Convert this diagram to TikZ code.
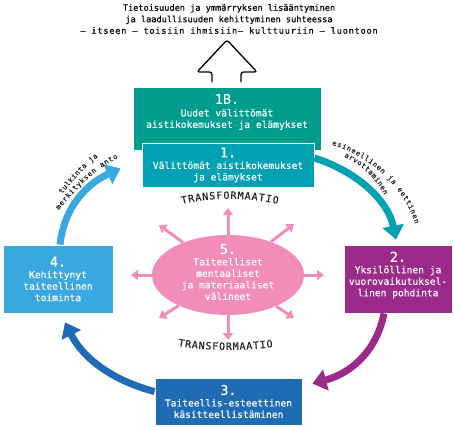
\documentclass[tikz,border=0pt]{standalone}
\usepackage{fontspec}
\setmonofont{DejaVu Sans Mono}[FakeBold=0.35]
\usepackage{xcolor}
\usetikzlibrary{arrows.meta,shapes.geometric,decorations.text}
\definecolor{tealdark}{HTML}{009C8E}
\definecolor{tealmid}{HTML}{00A1B2}
\definecolor{purplebox}{HTML}{9B2A8A}
\definecolor{bluedark}{HTML}{1F6CB5}
\definecolor{bluelight}{HTML}{3AA8E0}
\definecolor{pinkell}{HTML}{F28DB9}
\definecolor{inkgrey}{HTML}{222222}
\tikzset{every picture/.style={line width=0.75pt}}
\tikzset{
  box/.style={draw=white, line width=0.8pt, text=white, align=center, inner sep=0pt,
    font=\ttfamily\fontsize{9.6}{11.5}\selectfont},
  bigarrow/.style={line width=7pt, -{Triangle[width=21pt,length=14pt]}},
  ray/.style={pinkell, line width=3pt, -{Triangle[width=10pt,length=7pt]}},
  curvetext/.style={decorate, decoration={text along path, text align=fit to path,
    text color=inkgrey, text={#1}}}
}
\newcommand{\numfont}{\fontsize{13.5}{14}\selectfont}
\newcommand{\smallmono}{\ttfamily\fontsize{7}{7}\selectfont}
\newcommand{\capmono}{\ttfamily\fontsize{10}{10}\selectfont}

\begin{document}
\begin{tikzpicture}[x=1pt,y=-1pt]
\useasboundingbox (0,0) rectangle (454,426);
\node[font=\ttfamily\fontsize{8.6}{11.5}\selectfont, align=center, inner sep=0pt] (title) at (229,19)
  {Tietoisuuden ja ymmärryksen lisääntyminen\\
   ja laadullisuuden kehittyminen suhteessa\\
   {\addfontfeature{LetterSpace=9}– itseen – toisiin ihmisiin– kulttuuriin – luontoon}};
\draw[line width=1.3pt, rounded corners=2.5pt] (212,82) -- (212,72) -- (197,72) -- (227,40)
  -- (257,72) -- (241,72) -- (241,82);
%
\node[box, fill=tealdark, minimum width=188pt, minimum height=63pt] (box1B) at (227,118.5) {};
\node[box, draw=none] (txt1B) at (227,112) {{\numfont 1B.}\\[1pt]Uudet välittömät\\aistikokemukset ja elämykset};
\node[box, fill=tealmid, minimum width=172pt, minimum height=44pt] (box1) at (228,165)
  {{\numfont 1.}\\Välittömät aistikokemukset\\ja elämykset};
\node[box, fill=purplebox, minimum width=108pt, minimum height=68pt] (box2) at (398,279) {};
\node[box, draw=none] (txt2) at (398,275) {{\numfont 2.}\\Yksilöllinen ja\\vuorovaikutuksel-\\linen pohdinta};
\node[box, fill=bluedark, minimum width=147pt, minimum height=47pt] (box3) at (228.5,401.5)
  {{\numfont 3.}\\Taiteellis-esteettinen\\käsitteellistäminen};
\node[box, fill=bluelight, minimum width=110pt, minimum height=68pt] (box4) at (58,279)
  {{\numfont 4.}\\Kehittynyt\\taiteellinen\\toiminta};
%
\node[ellipse, fill=pinkell, minimum width=152pt, minimum height=80pt, inner sep=0pt] (ell) at (228,275) {};
\node[box, draw=none] (txt5) at (228,272) {{\numfont 5.}\\Taiteelliset\\mentaaliset\\ja materiaaliset\\välineet};
\foreach \Name/\Tip in {up/{228,208}, ur/{294,224}, rt/{324,275}, dr/{294,318},
    dn/{228,340}, dl/{159,318}, lt/{131,275}, ul/{159,225}}
  \draw[ray] (ell) -- (\Tip) coordinate (ray\Name);
%
\draw[bigarrow, tealmid] ([yshift=7pt]box1.east) .. controls (356,171) and (388,200) .. ([xshift=-2pt,yshift=5pt]box2.north);
\draw[bigarrow, purplebox] ([xshift=-14pt]box2.south) .. controls (377,350) and (352,373) .. ([xshift=10pt,yshift=-6pt]box3.north east);
\draw[bigarrow, bluedark] ([yshift=10pt]box3.west) .. controls (118,382) and (85,362) .. ([xshift=7pt,yshift=-9pt]box4.south);
\draw[bigarrow, bluelight] ([xshift=2pt]box4.north) .. controls (64,208) and (86,184) .. ([xshift=-12pt,yshift=-18pt]box1B.south west);
%
\path[curvetext={|\capmono|TRANSFORMAATIO}] (182,204) .. controls (212,197) and (246,197) .. (278,204);
\path[curvetext={|\capmono|TRANSFORMAATIO}] (178,346) .. controls (205,351) and (245,351) .. (273,347);
\path[curvetext={|\smallmono|tulkinta ja}] (62,194) .. controls (72,182) and (84,167) .. (98,157);
\path[curvetext={|\smallmono|merkityksen anto}] (59,210) .. controls (73,192) and (93,170) .. (118,158);
\path[curvetext={|\smallmono|esineellinen ja eettinen}] (332,145) .. controls (369,155) and (405,188) .. (415,224);
\path[curvetext={|\smallmono|arvottaminen}] (344,157) .. controls (359,163) and (375,176) .. (384,195);
\end{tikzpicture}
\end{document}
